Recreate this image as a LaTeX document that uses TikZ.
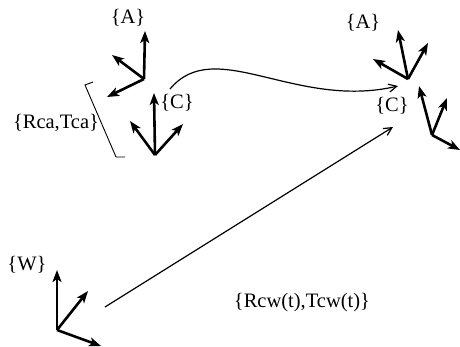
\documentclass[tikz,border=0pt]{standalone}
\usepackage{fontspec}
\setmainfont{Liberation Serif}
\usetikzlibrary{arrows.meta}
\tikzset{
  axis/.style={line width=2.6pt, -{Stealth[length=12pt,width=9pt,inset=3pt]}},
  link/.style={line width=1.2pt, -{Straight Barb[length=8pt,width=8pt]}},
  lbl/.style={inner sep=0pt, font=\fontsize{20.5}{24}\selectfont},
  brk/.style={line width=0.9pt}
}
\begin{document}
\begin{tikzpicture}[x=1pt,y=-1pt]
\useasboundingbox (0,0) rectangle (460,347);

% frame A, before the motion
\coordinate (A1) at (144,79);
\draw[axis] (A1) -- (145,31);
\draw[axis] (A1) -- (112,55);
\draw[axis] (A1) -- (107,97);
\node[lbl] (A1l) at (128,18) {\{A\}};

% frame C, before the motion
\coordinate (C1) at (155,155);
\draw[axis] (C1) -- (154,93);
\draw[axis] (C1) -- (130,121);
\draw[axis] (C1) -- (183,124);
\node[lbl] (C1l) at (177,103) {\{C\}};

% frame A, after the motion
\coordinate (A2) at (408,79);
\draw[axis] (A2) -- (398,30);
\draw[axis] (A2) -- (428,43);
\draw[axis] (A2) -- (373,59);
\node[lbl] (A2l) at (363,23) {\{A\}};

% frame C, after the motion
\coordinate (C2) at (432,135);
\draw[axis] (C2) -- (419,86);
\draw[axis] (C2) -- (447,98);
\draw[axis] (C2) -- (460,150);
\node[lbl] (C2l) at (392,106) {\{C\}};

% world frame
\coordinate (W) at (57,330);
\draw[axis] (W) -- (57,270);
\draw[axis] (W) -- (88,291);
\draw[axis] (W) -- (101,346);
\node[lbl] (Wl) at (27,265) {\{W\}};

% camera-to-arm transform, with its bracket
\node[lbl] (RT) at (56,123) {\{Rca,Tca\}};
\coordinate (b1) at (93,82);
\coordinate (b2) at (85,85);
\coordinate (b3) at (116,157);
\coordinate (b4) at (125,157);
\draw[brk] (b1) -- (b2) -- (b3) -- (b4);

% motion of the camera frame
\coordinate (m1) at (170,89);
\coordinate (m2) at (398,86);
\draw[link] (m1) .. controls (215,35) and (295,110) .. (m2);

% camera-to-world transform over time
\coordinate (w1) at (105,307);
\coordinate (w2) at (393,127);
\draw[link] (w1) -- (w2);
\node[lbl] (RTw) at (302,303) {\{Rcw(t),Tcw(t)\}};
\end{tikzpicture}
\end{document}
